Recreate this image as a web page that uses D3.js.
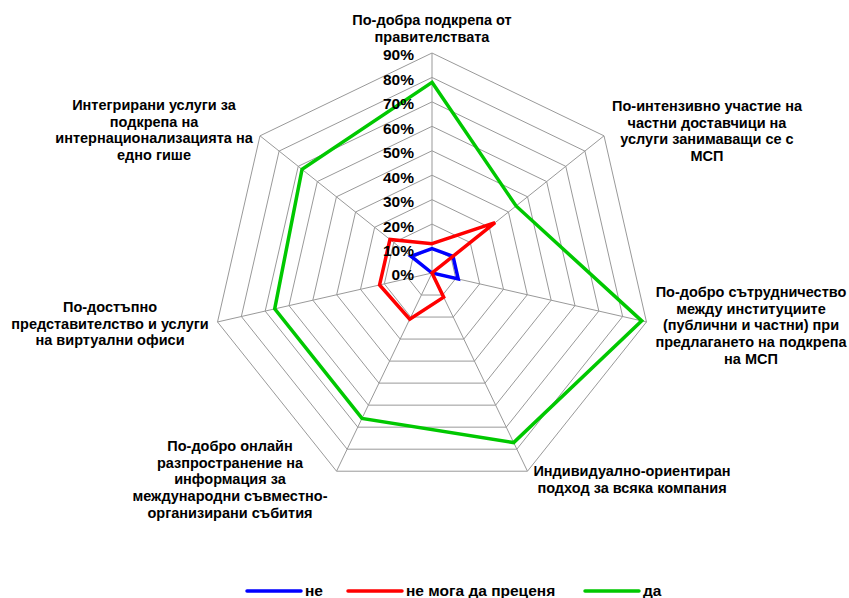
<!DOCTYPE html>
<html>
<head>
<meta charset="utf-8">
<script src="https://cdn.jsdelivr.net/npm/d3@7"></script>
<style>
  html, body { margin: 0; padding: 0; background: #fff; }
  svg { display: block; font-family: Arial, "Liberation Sans", sans-serif; }
</style>
</head>
<body>
<svg id="chart" width="849" height="598"></svg>
<script>
// Axis labels (one entry per spoke, clockwise from the top; lines split by "\n")
const categories = [
  "По-добра подкрепа от\nправителствата",
  "По-интензивно участие на\nчастни доставчици на\nуслуги занимаващи се с\nМСП",
  "По-добро сътрудничество\nмежду институциите\n(публични и частни) при\nпредлагането на подкрепа\nна МСП",
  "Индивидуално-ориентиран\nподход за всяка компания",
  "По-добро онлайн\nразпространение на\nинформация за\nмеждународни съвместно-\nорганизирани събития",
  "По-достъпно\nпредставителство и услуги\nна виртуални офиси",
  "Интегрирани услуги за\nподкрепа на\nинтернационализацията на\nедно гише"
];

// Shares of answers, in percent
const seriesNames = ["не", "не мога да преценя", "да"];
const valuesNe = [10, 11, 11, 0, 0, 0, 11];
const valuesNeMoga = [12, 33, 0, 11, 21, 22, 22];
const valuesDa = [78, 44, 88, 77, 66, 66, 68];
const seriesColors = ["#0000ff", "#ff0000", "#00c800"];

const tickValues = [0, 10, 20, 30, 40, 50, 60, 70, 80, 90];

// Label anchor points (centre x, first-line y) for each spoke label
const labelAnchors = [
  [432, 20], [707, 106], [751, 292], [632, 471], [230, 446], [110, 307], [154, 105]
];

const svg = d3.select("#chart");
const cx = 432, cy = 273;
const r = d3.scaleLinear().domain([0, 90]).range([0, 220]);
const n = categories.length;
const angle = d3.scaleLinear().domain([0, n]).range([0, 2 * Math.PI]);

const pt = (i, v) => [cx + r(v) * Math.sin(angle(i)), cy - r(v) * Math.cos(angle(i))];

const g = svg.append("g");

// concentric heptagon grid
g.selectAll("polygon.ring")
  .data(tickValues.filter(t => t > 0))
  .join("polygon")
  .attr("class", "ring")
  .attr("points", t => d3.range(n).map(i => pt(i, t).join(",")).join(" "))
  .attr("fill", "none")
  .attr("stroke", "#999")
  .attr("stroke-width", 1);

// spokes
g.selectAll("line.spoke")
  .data(d3.range(n))
  .join("line")
  .attr("class", "spoke")
  .attr("x1", cx).attr("y1", cy)
  .attr("x2", i => pt(i, 90)[0])
  .attr("y2", i => pt(i, 90)[1])
  .attr("stroke", "#999")
  .attr("stroke-width", 1);

// series outlines
const seriesData = [valuesNe, valuesNeMoga, valuesDa];
const radial = d3.lineRadial()
  .angle((d, i) => angle(i))
  .radius(d => r(d))
  .curve(d3.curveLinearClosed);

g.append("g")
  .attr("transform", `translate(${cx},${cy})`)
  .selectAll("path")
  .data(seriesData)
  .join("path")
  .attr("d", d => radial(d))
  .attr("fill", "none")
  .attr("stroke", (d, i) => seriesColors[i])
  .attr("stroke-width", 3.5)
  .attr("stroke-linejoin", "miter");

// percentage tick labels along the top spoke
g.selectAll("text.tick")
  .data(tickValues)
  .join("text")
  .attr("class", "tick")
  .attr("x", cx - 18)
  .attr("y", t => cy - r(t) + 2)
  .attr("dy", "0.35em")
  .attr("text-anchor", "end")
  .attr("font-size", 15.5)
  .attr("font-weight", "bold")
  .attr("fill", "#000")
  .text(t => t + "%");

// category labels
const lineH = 16.7;
categories.forEach((c, i) => {
  const t = g.append("text")
    .attr("text-anchor", "middle")
    .attr("font-size", 14.5)
    .attr("font-weight", "bold")
    .attr("fill", "#000");
  c.split("\n").forEach((line, k) => {
    t.append("tspan")
      .attr("x", labelAnchors[i][0])
      .attr("y", labelAnchors[i][1] + k * lineH)
      .attr("dy", "0.35em")
      .text(line);
  });
});

// legend
const legendX = [247, 348, 585];
const legend = svg.append("g");
seriesNames.forEach((name, i) => {
  legend.append("line")
    .attr("x1", legendX[i]).attr("x2", legendX[i] + 54)
    .attr("y1", 591).attr("y2", 591)
    .attr("stroke", seriesColors[i])
    .attr("stroke-width", 3.5)
    .attr("stroke-linecap", "round");
  legend.append("text")
    .attr("x", legendX[i] + 58)
    .attr("y", 591)
    .attr("dy", "0.35em")
    .attr("font-size", 15.5)
    .attr("font-weight", "bold")
    .text(name);
});
</script>
</body>
</html>
